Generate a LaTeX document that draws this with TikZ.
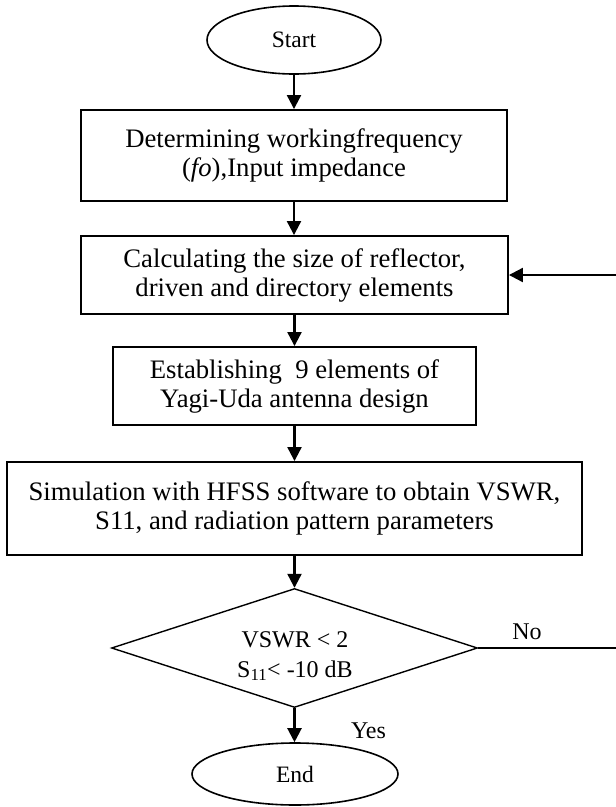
\documentclass[tikz,border=0pt]{standalone}
\usepackage{fontspec}
\setmainfont{Liberation Serif}
\usetikzlibrary{arrows.meta,shapes.geometric}
\begin{document}
\begin{tikzpicture}[x=1pt,y=-1pt,
  box/.style={draw, line width=1.9pt, inner sep=0pt, align=center, font=\fontsize{26.7}{29}\selectfont},
  term/.style={draw, ellipse, line width=1.6pt, inner sep=0pt, font=\fontsize{23.5}{27}\selectfont},
  arr/.style={-{Triangle[length=14pt,width=14pt]}, line width=2.2pt},
  fbline/.style={line width=1.4pt},
  lbl/.style={font=\fontsize{24}{30}\selectfont, inner sep=0pt}]
\useasboundingbox (0,0) rectangle (616,807);
\fill[white] (0,0) rectangle (616,807);

\node[term, minimum width=174pt, minimum height=68pt] (start) at (294,40) {Start};
\node[box, minimum width=426pt, minimum height=91pt] (b1) at (294,155.5) {Determining workingfrequency\\(\textit{fo}),Input impedance};
\node[box, minimum width=427pt, minimum height=78pt] (b2) at (294.5,275) {Calculating the size of reflector,\\driven and directory elements};
\node[box, minimum width=363pt, minimum height=78pt] (b3) at (294.5,386) {Establishing\ \ 9 elements of\\Yagi-Uda antenna design};
\node[box, minimum width=575pt, minimum height=93pt] (b4) at (294.5,508.5) {Simulation with HFSS software to obtain VSWR,\\S11, and radiation pattern parameters};
\node[diamond, draw, line width=1.4pt, aspect=3.1, inner sep=0pt, minimum width=366pt, minimum height=119pt] (dec) at (294.5,648) {};
\node[lbl, align=center] (dect) at (295,656) {VSWR < 2\\S\textsubscript{11}< -10 dB};
\node[term, minimum width=206pt, minimum height=62pt] (end) at (295,774) {End};

\node[lbl, anchor=base] (yes) at (368.5,738) {Yes};
\node[lbl, anchor=base] (no) at (527,639) {No};

\coordinate (fbt) at (618,275);
\coordinate (fbb) at (618,648);

\draw[arr] (start.south) -- (start.south |- b1.north);
\draw[arr] (b1.south) -- (b1.south |- b2.north);
\draw[arr] (b2.south) -- (b2.south |- b3.north);
\draw[arr] (b3.south) -- (b3.south |- b4.north);
\draw[arr] (b4.south) -- (b4.south |- dec.north);
\draw[arr] (dec.south) -- (dec.south |- end.north);
\draw[fbline] (dec.east) -- (fbb) -- (fbt);
\draw[arr] (fbt) -- (b2.east);
\end{tikzpicture}
\end{document}
